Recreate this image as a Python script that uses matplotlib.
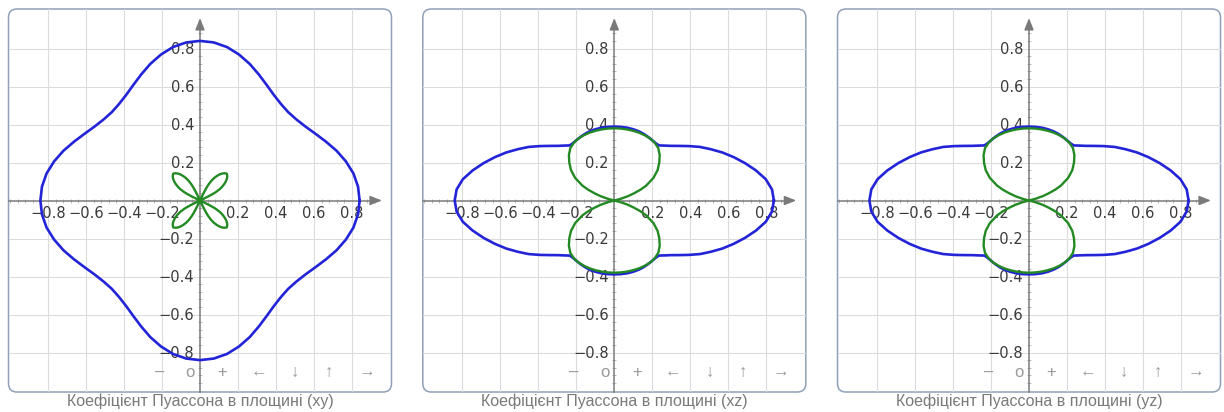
import numpy as np
import matplotlib
matplotlib.use('Agg')
import matplotlib.pyplot as plt
from matplotlib.patches import FancyBboxPatch
from matplotlib.ticker import FixedLocator

BLUE = '#2323d8'; GREEN = '#238a23'; AXIS = '#7a7a7a'; GRID = '#dcdcdc'
LABEL = '#3a3a3a'; NAVC = '#999999'; CAPC = '#7a7a7a'; BORDER = '#8fa0b8'
FONT = ['Liberation Sans', 'DejaVu Sans']

# --- data ---
PLANES = ['xy', 'xz', 'yz']
CAPTION = 'Коефіцієнт Пуассона в площині ({})'
TICKS = [-0.8, -0.6, -0.4, -0.2, 0.2, 0.4, 0.6, 0.8]
TICK_LABELS = ['−0.8', '−0.6', '−0.4', '−0.2', '0.2', '0.4', '0.6', '0.8']
MINOR = [round(-1.0 + 0.04 * i, 2) for i in range(49)]
NAV = ['–', 'o', '+', '←', '↓', '↑', '→']

# xy plane: angle (deg) up to 45, radius (mirrored about 45 deg)
XY_ANG = [0, 5, 10, 15, 20, 25, 30, 35, 40, 45]
XY_BLUE = [0.840, 0.835, 0.820, 0.795, 0.765, 0.732, 0.702, 0.678, 0.663, 0.657]
XY_GANG = [25, 26, 27, 28, 30, 32, 34, 36, 38, 40, 42, 45]
XY_GREEN = [0.0, 0.045, 0.075, 0.095, 0.120, 0.138, 0.153, 0.166, 0.177, 0.186, 0.193, 0.200]

# xz / yz plane: angle 0..90 deg, radius
XZ_ANG = [0, 4, 8, 12, 16, 20, 24, 28, 32, 36, 40, 44, 48, 51, 54, 58, 62, 66, 70, 75, 80, 85, 90]
XZ_BLUE = [0.840, 0.832, 0.805, 0.762, 0.715, 0.668, 0.622, 0.575, 0.532, 0.487, 0.447, 0.414,
           0.389, 0.373, 0.372, 0.375, 0.379, 0.383, 0.386, 0.388, 0.389, 0.389, 0.389]
XZ_GANG = [13, 15, 17.5, 20, 22.5, 25, 30, 35, 40, 45, 50, 55, 60, 65, 70, 75, 80, 85, 90]
XZ_GREEN = [0.0, 0.035, 0.075, 0.110, 0.150, 0.185, 0.238, 0.278, 0.309, 0.338, 0.360, 0.371,
            0.377, 0.379, 0.380, 0.380, 0.380, 0.380, 0.380]


def mirror45(ang, r):
    a = list(ang) + [90 - v for v in reversed(ang[:-1])]
    return a, list(r) + list(reversed(r[:-1]))


def full_curve(ang, r):
    a = np.radians(np.asarray(ang, float)); r = np.asarray(r, float)
    th = np.concatenate([a, np.pi - a[::-1], np.pi + a, 2 * np.pi - a[::-1]])
    rr = np.concatenate([r, r[::-1], r, r[::-1]])
    return rr * np.cos(th), rr * np.sin(th)


curves = {
    'xy': [full_curve(*mirror45(XY_ANG, XY_BLUE)), full_curve(*mirror45(XY_GANG, XY_GREEN))],
    'xz': [full_curve(XZ_ANG, XZ_BLUE), full_curve(XZ_GANG, XZ_GREEN)],
    'yz': [full_curve(XZ_ANG, XZ_BLUE), full_curve(XZ_GANG, XZ_GREEN)],
}

W, H = 1224, 412
fig = plt.figure(figsize=(W / 100, H / 100), dpi=100)
fig.patch.set_facecolor('white')

ORIGINS = [200.0, 614.3, 1029.0]
OY = 200.5; HALF = 191.5; SCALE = 190.0
LIM = HALF / SCALE
NAV_X = [0.394, 0.475, 0.559, 0.653, 0.749, 0.836, 0.935]

for plane, ox in zip(PLANES, ORIGINS):
    ax = fig.add_axes([(ox - HALF) / W, (H - OY - HALF) / H, 2 * HALF / W, 2 * HALF / H])
    ax.set_xlim(-LIM, LIM); ax.set_ylim(-LIM, LIM)
    ax.patch.set_visible(False)
    box = FancyBboxPatch((0, 0), 1, 1, boxstyle='round,pad=0,rounding_size=0.022',
                         transform=ax.transAxes, facecolor='white', edgecolor=BORDER,
                         linewidth=1.1, clip_on=False, zorder=-5)
    ax.add_patch(box)

    for axis in (ax.xaxis, ax.yaxis):
        axis.set_major_locator(FixedLocator(TICKS))
        axis.set_minor_locator(FixedLocator([v for v in MINOR if v <= 0.92]))
    ax.set_xticklabels(TICK_LABELS, family=FONT)
    ax.set_yticklabels(TICK_LABELS, family=FONT)
    ax.tick_params(which='major', length=0, labelsize=10.5, labelcolor=LABEL, pad=4)
    ax.tick_params(which='minor', length=3.5, width=0.6, direction='inout', color='#b0b0b0')
    ax.grid(True, which='major', color=GRID, lw=0.8)
    ax.set_axisbelow(True)
    for gl in ax.get_xgridlines() + ax.get_ygridlines():
        gl.set_clip_path(box)

    for s in ('top', 'right'):
        ax.spines[s].set_visible(False)
    for s in ('left', 'bottom'):
        ax.spines[s].set_position(('data', 0))
        ax.spines[s].set_color(AXIS)
        ax.spines[s].set_linewidth(1.1)
        ax.spines[s].set_bounds(-LIM, 0.93)
    ax.annotate('', xy=(0.972, 0), xytext=(0.90, 0),
                arrowprops=dict(arrowstyle='-|>,head_length=0.7,head_width=0.28', color=AXIS, lw=1.1))
    ax.annotate('', xy=(0, 0.975), xytext=(0, 0.90),
                arrowprops=dict(arrowstyle='-|>,head_length=0.7,head_width=0.28', color=AXIS, lw=1.1))

    (bx, by), (gx, gy) = curves[plane]
    ax.plot(bx, by, color=BLUE, lw=1.9, zorder=4, solid_joinstyle='round')
    ax.plot(gx, gy, color=GREEN, lw=1.7, zorder=4, solid_joinstyle='round')

    for ch, nx in zip(NAV, NAV_X):
        ax.text(nx, 0.052, ch, transform=ax.transAxes, ha='center', va='center',
                fontsize=12, color=NAVC, family=FONT, zorder=5)

    fig.text(ox / W, 10.5 / H, CAPTION.format(plane), ha='center', va='center',
             fontsize=11.5, color=CAPC, family=FONT)

fig.savefig('out.png', dpi=100, facecolor='white')
